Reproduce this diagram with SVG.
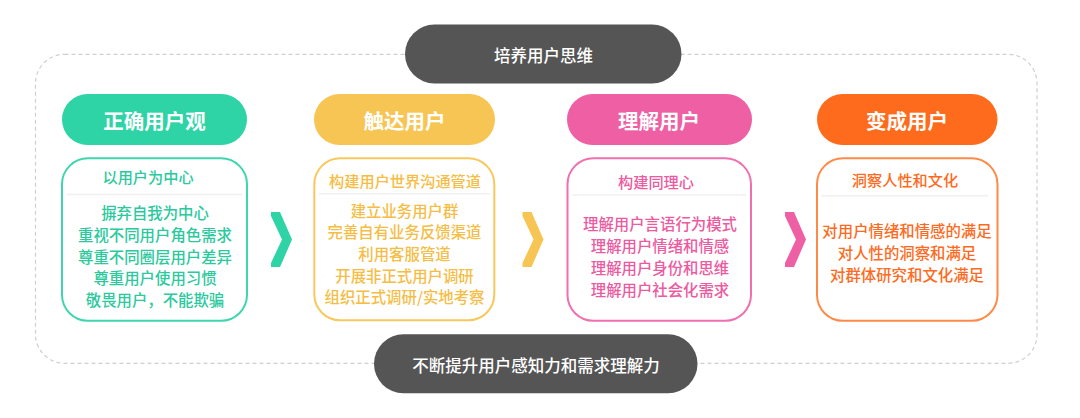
<svg xmlns="http://www.w3.org/2000/svg" width="1080" height="418" viewBox="0 0 1080 418">
<style>
text{font-family:"Noto Sans CJK SC","Noto Sans",sans-serif;text-anchor:middle;dominant-baseline:central}
.frame{fill:none;stroke:#cfcfcf;stroke-width:1.2;stroke-dasharray:4 3}
.dark{fill:#555555}
.darkt{fill:#ffffff;font-size:16.5px;font-weight:500}
.title{fill:#ffffff;font-size:20.5px;font-weight:700}
.box{fill:#ffffff;stroke-width:2}
.div{stroke:#f0f0f0;stroke-width:1.5}
.sub{font-size:15.2px;font-weight:500}
.item{font-size:15.4px;font-weight:500}
.g{fill:#2ed3a6}.gs{stroke:#3fd6ad}
.y{fill:#f7c553}.ys{stroke:#f8c85c}
.p{fill:#ee5fa3}.ps{stroke:#f06fae}
.o{fill:#ff6b1d}.os{stroke:#ff8a47}
.gt{fill:#2cc99d}.yt{fill:#f5bd45}.pt{fill:#ec5a9f}.ot{fill:#ff6a20}
</style>
<defs>
<polygon id="chev" points="0,0 9,0 21,27.5 9,55 0,55 0,51 11,27.5 0,4"/>
</defs>
<rect class="frame" x="35.5" y="54.3" width="1001.5" height="309" rx="29"/>
<g id="top-pill">
<rect class="dark" x="405" y="24.5" width="276.5" height="59" rx="29.5"/>
<text class="darkt" x="543.5" y="54.5">培养用户思维</text>
</g>
<g id="bottom-pill">
<rect class="dark" x="374" y="334.3" width="323.5" height="59" rx="29.5"/>
<text class="darkt" x="536" y="364.5">不断提升用户感知力和需求理解力</text>
</g>
<g id="node-1">
<rect class="g" x="62" y="94" width="185" height="51" rx="25.5"/>
<text class="title" x="154.5" y="119.7">正确用户观</text>
<rect class="box gs" x="62" y="158.3" width="185" height="162.5" rx="26"/>
<line class="div" x1="67" y1="194.5" x2="242" y2="194.5"/>
<text class="sub gt" x="148" y="176">以用户为中心</text>
<text class="item gt" x="155" y="212">摒弃自我为中心</text>
<text class="item gt" x="155" y="233.8">重视不同用户角色需求</text>
<text class="item gt" x="155" y="255.6">尊重不同圈层用户差异</text>
<text class="item gt" x="155" y="277.4">尊重用户使用习惯</text>
<text class="item gt" x="155" y="299.2">敬畏用户，不能欺骗</text>
</g>
<g id="node-2">
<rect class="y" x="314" y="94" width="181" height="51" rx="25.5"/>
<text class="title" x="404.5" y="119.7">触达用户</text>
<rect class="box ys" x="314.3" y="158.3" width="180" height="162" rx="26"/>
<line class="div" x1="319" y1="193.8" x2="490" y2="193.8"/>
<text class="sub yt" x="405" y="180">构建用户世界沟通管道</text>
<text class="item yt" x="404.5" y="209.7">建立业务用户群</text>
<text class="item yt" x="404.5" y="231.3">完善自有业务反馈渠道</text>
<text class="item yt" x="404.5" y="252.9">利用客服管道</text>
<text class="item yt" x="404.5" y="274.5">开展非正式用户调研</text>
<text class="item yt" x="404.5" y="296.1">组织正式调研/实地考察</text>
</g>
<g id="node-3">
<rect class="p" x="567" y="94" width="185" height="51" rx="25.5"/>
<text class="title" x="659" y="119.7">理解用户</text>
<rect class="box ps" x="567.5" y="158.3" width="183.5" height="162.5" rx="26"/>
<line class="div" x1="572" y1="195" x2="746" y2="195"/>
<text class="sub pt" x="656" y="180.5">构建同理心</text>
<text class="item pt" x="660" y="222.5">理解用户言语行为模式</text>
<text class="item pt" x="660" y="244.5">理解用户情绪和情感</text>
<text class="item pt" x="660" y="266.5">理解用户身份和思维</text>
<text class="item pt" x="660" y="288.5">理解用户社会化需求</text>
</g>
<g id="node-4">
<rect class="o" x="817" y="94" width="180.5" height="51" rx="25.5"/>
<text class="title" x="907" y="119.7">变成用户</text>
<rect class="box os" x="817" y="158.3" width="180.5" height="162.5" rx="26"/>
<line class="div" x1="821" y1="195.7" x2="988" y2="195.7"/>
<text class="sub ot" x="905" y="179.2">洞察人性和文化</text>
<text class="item ot" x="907" y="230">对用户情绪和情感的满足</text>
<text class="item ot" x="907" y="251.8">对人性的洞察和满足</text>
<text class="item ot" x="907" y="273.6">对群体研究和文化满足</text>
</g>
<g id="connectors">
<use href="#chev" class="g" x="271" y="212"/>
<use href="#chev" class="y" x="522.5" y="212"/>
<use href="#chev" class="p" x="785" y="212"/>
</g>
</svg>
